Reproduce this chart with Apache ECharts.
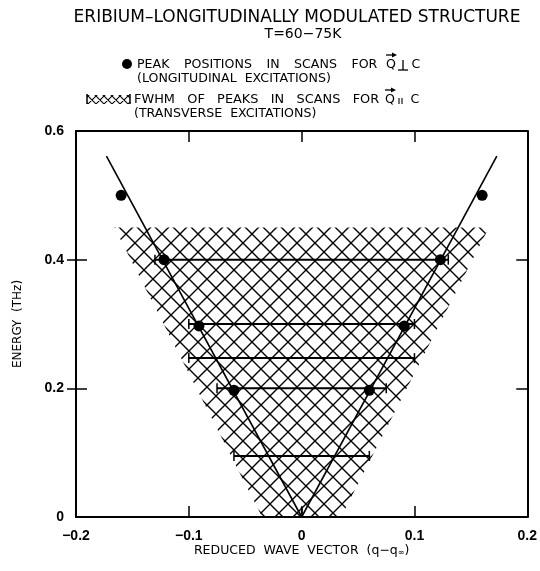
<!DOCTYPE html>
<html><head><meta charset="utf-8">
<script src="https://cdn.jsdelivr.net/npm/echarts@6/dist/echarts.min.js"></script>
<style>html,body{margin:0;padding:0;background:#fff}#c{width:540px;height:571px}</style>
</head><body><div id="c"></div>
<script>
// ---- data ----
const peakQ = [-0.160, -0.122, -0.091, -0.060, 0.060, 0.091, 0.123, 0.160];
const peakE = [0.500, 0.400, 0.297, 0.197, 0.197, 0.297, 0.400, 0.500];
const fwhmE = [0.400, 0.300, 0.247, 0.200, 0.095];
const fwhmHalf = [0.130, 0.100, 0.100, 0.075, 0.060];
const dispLeftQ = [-0.173, 0];
const dispLeftE = [0.561, 0];
const dispRightQ = [0, 0.173];
const dispRightE = [0, 0.561];
const hatchQ = [-0.035, 0.035, 0.166, -0.166];
const hatchE = [0, 0, 0.45, 0.45];
const originQ = [0];
const originE = [0];
const xTickValues = [-0.2, -0.1, 0, 0.1, 0.2];
const xTickLabels = ['\u22120.2', '\u22120.1', '0', '0.1', '0.2'];
const yTickValues = [0, 0.2, 0.4, 0.6];
const yTickLabels = ['0', '0.2', '0.4', '0.6'];

function hatchCanvas(s, lw) {
  const c = document.createElement('canvas');
  c.width = s; c.height = s;
  const g = c.getContext('2d');
  g.strokeStyle = '#000'; g.lineWidth = lw;
  g.beginPath();
  for (let k = -1; k <= 1; k++) {
    g.moveTo(k * s - s, -s); g.lineTo(k * s + 2 * s, 2 * s);
    g.moveTo(k * s + 2 * s, -s); g.lineTo(k * s - s, 2 * s);
  }
  g.stroke();
  return c;
}
const bigHatch = hatchCanvas(18, 1.4);
const smallHatch = hatchCanvas(8, 1.1);

function lab(arrV, arrL) {
  return v => {
    for (let i = 0; i < arrV.length; i++) if (Math.abs(v - arrV[i]) < 1e-9) return arrL[i];
    return '';
  };
}

const tickFont = { color: '#000', fontFamily: 'Liberation Sans', fontWeight: 'bold', fontSize: 14 };
const axLine = { show: true, onZero: false, lineStyle: { color: '#000', width: 2 } };
const tickStyle = { color: '#000', width: 1.5 };
const txtFont = 'DejaVu Sans';
const G = '   \u2009';

const chart = echarts.init(document.getElementById('c'), null, { renderer: 'canvas' });
chart.setOption({
  animation: false,
  backgroundColor: '#fff',
  grid: { left: 76, right: 10, top: 131, bottom: 54 },
  xAxis: [
    {
      type: 'value', min: -0.2, max: 0.2, interval: 0.1, position: 'bottom',
      axisLine: axLine, splitLine: { show: false },
      axisTick: { inside: true, length: 11, lineStyle: tickStyle },
      axisLabel: Object.assign({ margin: 12, formatter: lab(xTickValues, xTickLabels) }, tickFont),
      name: '{a|REDUCED  WAVE  VECTOR  (q\u2212q}{s|\u221e}{a|)}',
      nameLocation: 'middle', nameGap: 27, nameMoveOverlap: false,
      nameTextStyle: {
        lineHeight: 13,
        rich: {
          a: { fontFamily: txtFont, fontSize: 12.5, color: '#000', lineHeight: 13 },
          s: { fontFamily: txtFont, fontSize: 8, color: '#000', lineHeight: 13, verticalAlign: 'bottom' }
        }
      }
    },
    {
      type: 'value', min: -0.2, max: 0.2, interval: 0.1, position: 'top',
      axisLine: axLine, splitLine: { show: false },
      axisTick: { inside: true, length: 11, lineStyle: tickStyle },
      axisLabel: { show: false }
    }
  ],
  yAxis: [
    {
      type: 'value', min: 0, max: 0.6, interval: 0.2, position: 'left',
      axisLine: axLine, splitLine: { show: false },
      axisTick: { inside: true, length: 11, lineStyle: tickStyle },
      axisLabel: Object.assign({ margin: 12, formatter: lab(yTickValues, yTickLabels) }, tickFont),
      name: 'ENERGY  (THz)', nameLocation: 'middle', nameRotate: 90, nameGap: 52, nameMoveOverlap: false,
      nameTextStyle: { fontFamily: txtFont, fontSize: 12, color: '#000' }
    },
    {
      type: 'value', min: 0, max: 0.6, interval: 0.2, position: 'right',
      axisLine: axLine, splitLine: { show: false },
      axisTick: { inside: true, length: 11, lineStyle: tickStyle },
      axisLabel: { show: false }
    },
    {
      type: 'value', min: 0, max: 0.6, interval: 0.2, position: 'left',
      axisLine: { show: false, onZero: false }, splitLine: { show: false },
      axisTick: { inside: false, length: 9, lineStyle: tickStyle, customValues: [0.2, 0.4] },
      axisLabel: { show: false }
    }
  ],
  series: [
    {
      type: 'custom', xAxisIndex: 0, yAxisIndex: 0, silent: true, z: 1,
      data: hatchQ.map((q, i) => [q, hatchE[i]]),
      renderItem: (params, api) => {
        if (params.dataIndex !== 0) return null;
        const pts = hatchQ.map((q, i) => api.coord([q, hatchE[i]]));
        return { type: 'polygon', shape: { points: pts },
          style: { fill: { image: bigHatch, repeat: 'repeat' }, stroke: null } };
      }
    },
    {
      type: 'custom', xAxisIndex: 0, yAxisIndex: 0, silent: true, z: 3,
      data: fwhmE.map((e, i) => [fwhmHalf[i], e]),
      encode: { x: 0, y: 1 },
      renderItem: (params, api) => {
        const hw = api.value(0), e = api.value(1);
        const l = api.coord([-hw, e]), r = api.coord([hw, e]);
        const h = 5;
        const st = { stroke: '#000', lineWidth: 2 };
        return { type: 'group', children: [
          { type: 'line', shape: { x1: l[0], y1: l[1], x2: r[0], y2: r[1] }, style: st },
          { type: 'line', shape: { x1: l[0], y1: l[1] - h, x2: l[0], y2: l[1] + h }, style: { stroke: '#000', lineWidth: 1.5 } },
          { type: 'line', shape: { x1: r[0], y1: r[1] - h, x2: r[0], y2: r[1] + h }, style: { stroke: '#000', lineWidth: 1.5 } }
        ] };
      }
    },
    {
      type: 'line', xAxisIndex: 0, yAxisIndex: 0, symbol: 'none', z: 4, silent: true,
      data: dispLeftQ.map((q, i) => [q, dispLeftE[i]]),
      lineStyle: { color: '#000', width: 1.6 }
    },
    {
      type: 'line', xAxisIndex: 0, yAxisIndex: 0, symbol: 'none', z: 4, silent: true,
      data: dispRightQ.map((q, i) => [q, dispRightE[i]]),
      lineStyle: { color: '#000', width: 1.6 }
    },
    {
      type: 'scatter', xAxisIndex: 0, yAxisIndex: 0, z: 5, silent: true,
      symbol: 'circle', symbolSize: 11,
      itemStyle: { color: '#000', opacity: 1 },
      data: peakQ.map((q, i) => [q, peakE[i]])
    },
    {
      type: 'scatter', xAxisIndex: 0, yAxisIndex: 0, z: 5, silent: true,
      symbol: 'rect', symbolSize: [1.6, 10], symbolOffset: [0, -5],
      itemStyle: { color: '#000', opacity: 1 },
      data: originQ.map((q, i) => [q, originE[i]])
    }
  ],
  graphic: [
    { type: 'text', x: 297, y: 18, style: { text: 'ERIBIUM\u2013LONGITUDINALLY MODULATED STRUCTURE', fontFamily: txtFont, fontSize: 17, fill: '#000', textAlign: 'center', textVerticalAlign: 'middle' } },
    { type: 'text', x: 303, y: 34, style: { text: 'T=60\u221275K', fontFamily: txtFont, fontSize: 14, fill: '#000', textAlign: 'center', textVerticalAlign: 'middle' } },
    { type: 'circle', shape: { cx: 127, cy: 64, r: 5 }, style: { fill: '#000' } },
    { type: 'text', x: 137, y: 65, style: { text: 'PEAK' + G + 'POSITIONS' + G + 'IN' + G + 'SCANS' + G + 'FOR', fontFamily: txtFont, fontSize: 12.6, fill: '#000', textAlign: 'left', textVerticalAlign: 'middle' } },
    { type: 'text', x: 391, y: 65, style: { text: 'Q', fontFamily: txtFont, fontSize: 12.6, fill: '#000', textAlign: 'center', textVerticalAlign: 'middle' } },
    { type: 'line', shape: { x1: 398, y1: 70, x2: 408, y2: 70 }, style: { stroke: '#000', lineWidth: 1.3 } },
    { type: 'line', shape: { x1: 403, y1: 60, x2: 403, y2: 70 }, style: { stroke: '#000', lineWidth: 1.3 } },
    { type: 'text', x: 416, y: 65, style: { text: 'C', fontFamily: txtFont, fontSize: 12.6, fill: '#000', textAlign: 'center', textVerticalAlign: 'middle' } },
    { type: 'line', shape: { x1: 386, y1: 55, x2: 395, y2: 55 }, style: { stroke: '#000', lineWidth: 1.3 } },
    { type: 'polygon', shape: { points: [[397, 55], [392, 52.5], [392, 57.5]] }, style: { fill: '#000' } },
    { type: 'text', x: 137, y: 79, style: { text: '(LONGITUDINAL  EXCITATIONS)', fontFamily: txtFont, fontSize: 12.6, fill: '#000', textAlign: 'left', textVerticalAlign: 'middle' } },

    { type: 'rect', shape: { x: 87, y: 95, width: 43, height: 9 }, style: { fill: { image: smallHatch, repeat: 'repeat' }, stroke: null } },
    { type: 'line', shape: { x1: 87, y1: 94, x2: 87, y2: 104 }, style: { stroke: '#000', lineWidth: 1.5 } },
    { type: 'line', shape: { x1: 130, y1: 94, x2: 130, y2: 104 }, style: { stroke: '#000', lineWidth: 1.5 } },
    { type: 'text', x: 134, y: 100, style: { text: 'FWHM   OF   PEAKS   IN   SCANS   FOR', fontFamily: txtFont, fontSize: 12.9, fill: '#000', textAlign: 'left', textVerticalAlign: 'middle' } },
    { type: 'text', x: 390, y: 100, style: { text: 'Q', fontFamily: txtFont, fontSize: 12.6, fill: '#000', textAlign: 'center', textVerticalAlign: 'middle' } },
    { type: 'line', shape: { x1: 399, y1: 98, x2: 399, y2: 104 }, style: { stroke: '#000', lineWidth: 1.1 } },
    { type: 'line', shape: { x1: 402, y1: 98, x2: 402, y2: 104 }, style: { stroke: '#000', lineWidth: 1.1 } },
    { type: 'text', x: 415, y: 100, style: { text: 'C', fontFamily: txtFont, fontSize: 12.6, fill: '#000', textAlign: 'center', textVerticalAlign: 'middle' } },
    { type: 'line', shape: { x1: 385, y1: 90, x2: 394, y2: 90 }, style: { stroke: '#000', lineWidth: 1.3 } },
    { type: 'polygon', shape: { points: [[396, 90], [391, 87.5], [391, 92.5]] }, style: { fill: '#000' } },
    { type: 'text', x: 134, y: 114, style: { text: '(TRANSVERSE  EXCITATIONS)', fontFamily: txtFont, fontSize: 12.6, fill: '#000', textAlign: 'left', textVerticalAlign: 'middle' } }
  ]
});
</script>
</body></html>
